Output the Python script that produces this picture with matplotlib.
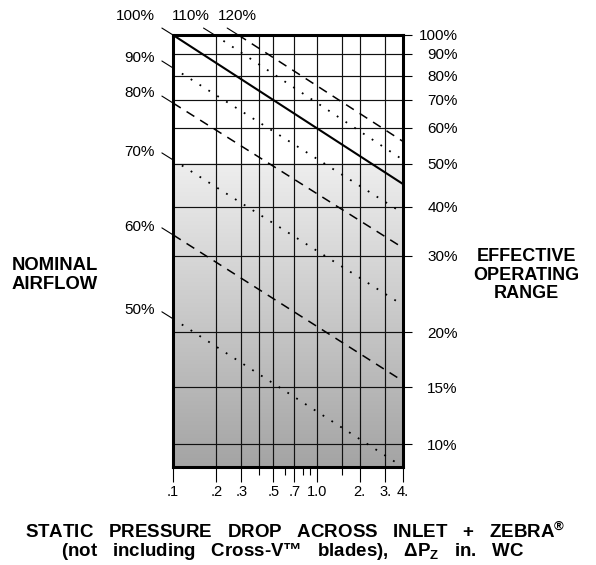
import numpy as np
import matplotlib
matplotlib.use("Agg")
import matplotlib.pyplot as plt
from matplotlib.colors import LinearSegmentedColormap
from matplotlib.ticker import FixedLocator, FixedFormatter, NullFormatter

plt.rcParams['font.family'] = ['Liberation Sans', 'DejaVu Sans']
plt.rcParams['mathtext.fontset'] = 'custom'
plt.rcParams['mathtext.rm'] = 'Liberation Sans:bold'
plt.rcParams['mathtext.bf'] = 'Liberation Sans:bold'

# ---------------- data ----------------
nominal = ['120%', '110%', '100%', '90%', '80%', '70%', '60%', '50%']
dp_start = [0.285, 0.195, 0.1, 0.1, 0.1, 0.1, 0.1, 0.1]
range_start = [100, 100, 100, 83.5, 68.8, 51.0, 33.9, 21.5]
dp_end = [4.0, 4.0, 4.0, 4.0, 4.0, 4.0, 4.0, 4.0]
range_end = [56, 51, 45, 38.5, 31.4, 23.1, 15.5, 8.8]

x_major = [0.1, 0.2, 0.3, 0.5, 0.7, 1.0, 2.0, 3.0, 4.0]
x_major_labels = ['.1', '.2', '.3', '.5', '.7', '1.0', '2.', '3.', '4.']
x_minor = [0.4, 0.6, 0.8, 0.9, 1.5]
x_grid = [0.2, 0.3, 0.4, 0.5, 0.7, 1.0, 1.5, 2.0, 3.0]

y_ticks = [100, 90, 80, 70, 60, 50, 40, 30, 20, 15, 10]
y_tick_labels = ['100%', '90%', '80%', '70%', '60%', '50%', '40%', '30%', '20%', '15%', '10%']
shade_top = 50

# ------------- chart's (hand drawn, near-log) y spacing -------------
SCALE_VALS = np.array([1, 10, 15, 20, 30, 40, 50, 60, 70, 80, 90, 100, 1000], float)
SCALE_POS = np.array([-855, -445, -388, -333, -256, -207, -164, -128, -100, -76, -54, -35, 375], float)
LOGV = np.log10(SCALE_VALS)


def fwd(v):
    v = np.asarray(v, float)
    return np.interp(np.log10(np.clip(v, 1e-9, None)), LOGV, SCALE_POS)


def inv(h):
    h = np.asarray(h, float)
    return 10 ** np.interp(h, SCALE_POS, LOGV)


# ---------------- styles ----------------
STYLE = {
    '120%': dict(ls=(0, (6.0, 4.5)), lw=1.1),
    '110%': dict(ls=(0, (1.0, 4.8)), lw=1.3),
    '100%': dict(ls='-', lw=1.5),
    '90%': dict(ls=(0, (1.0, 4.8)), lw=1.3),
    '80%': dict(ls=(0, (6.0, 4.5)), lw=1.1),
    '70%': dict(ls=(0, (1.0, 4.8)), lw=1.3),
    '60%': dict(ls=(0, (6.0, 4.5)), lw=1.1),
    '50%': dict(ls=(0, (1.0, 4.8)), lw=1.3),
}
TEXT_OFF = {
    '120%': (13.5, 13.5), '110%': (-3.4, 13.5), '100%': (-13, 13.5),
    '90%': (-13, 7.5), '80%': (-13, 7.0), '70%': (-13, 6.0), '60%': (-13, 5.5), '50%': (-13, 6.0),
}
LEADER_OFF = (-8.0, 5.0)

W, H = 596, 565
fig = plt.figure(figsize=(W / 100, H / 100), dpi=100)
L, R, T, B = 173, 403, 35, 467
ax = fig.add_axes([L / W, 1 - B / H, (R - L) / W, (B - T) / H])
ax.set_xscale('log')
ax.set_yscale('function', functions=(fwd, inv))
ax.set_xlim(0.1, 4.0)
ax.set_ylim(8.8, 100)

# background gradient from the 50% line down
frac = ax.transAxes.inverted().transform(ax.transData.transform((1.0, shade_top)))[1]
cmap = LinearSegmentedColormap.from_list('g', ['#eeeeee', '#a4a4a4'])
grad = np.linspace(0, 1, 256).reshape(-1, 1)
ax.imshow(grad, cmap=cmap, extent=(0, 1, 0, frac), transform=ax.transAxes,
          aspect='auto', origin='upper', zorder=0, interpolation='bilinear')
ax.set_xlim(0.1, 4.0)
ax.set_ylim(8.8, 100)

for xv in x_grid:
    ax.axvline(xv, color='#111111', lw=0.85, zorder=1)
for yv in y_ticks[1:]:
    ax.axhline(yv, color='#111111', lw=0.85, zorder=1)

for i, name in enumerate(nominal):
    st = STYLE[name]
    ax.plot([dp_start[i], dp_end[i]], [range_start[i], range_end[i]], color='black',
            linestyle=st['ls'], lw=st['lw'], zorder=3, solid_capstyle='butt')
    ax.annotate('', xy=(dp_start[i], range_start[i]), xytext=LEADER_OFF,
                textcoords='offset points', annotation_clip=False,
                arrowprops=dict(arrowstyle='-', lw=0.8, color='black', shrinkA=0, shrinkB=0))
    ax.annotate(name, xy=(dp_start[i], range_start[i]), xytext=TEXT_OFF[name],
                textcoords='offset points', ha='right', va='center', fontsize=11,
                annotation_clip=False)

# ticks
ax.xaxis.set_major_locator(FixedLocator(x_major))
ax.xaxis.set_major_formatter(FixedFormatter(x_major_labels))
ax.xaxis.set_minor_locator(FixedLocator(x_minor))
ax.xaxis.set_minor_formatter(NullFormatter())
ax.tick_params(axis='x', which='major', direction='out', length=10.8, width=0.8,
               labelsize=10.5, pad=2)
ax.tick_params(axis='x', which='minor', direction='out', length=5.8, width=0.8)

ax.yaxis.tick_right()
ax.yaxis.set_major_locator(FixedLocator(y_ticks))
ax.yaxis.set_major_formatter(FixedFormatter(y_tick_labels))
ax.yaxis.set_minor_locator(FixedLocator([]))
ax.tick_params(axis='y', which='major', direction='out', length=6.5, width=0.8,
               labelsize=11, pad=33)
for t in ax.get_yticklabels():
    t.set_horizontalalignment('right')

for s in ax.spines.values():
    s.set_linewidth(2.2)
    s.set_zorder(5)

# titles
fig.text(12 / W, 1 - 275 / H, 'NOMINAL\nAIRFLOW', ha='left', va='center',
         fontsize=13.3, fontweight='bold', linespacing=1.15)
fig.text(526 / W, 1 - 275 / H, 'EFFECTIVE\nOPERATING\nRANGE', ha='center', va='center',
         fontsize=13, fontweight='bold', linespacing=1.15, multialignment='center')
fig.text(295 / W, 1 - 532 / H,
         'STATIC   PRESSURE   DROP   ACROSS   INLET   +   ZEBRA$^{\\circledR}$',
         ha='center', va='center', fontsize=13.5, fontweight='bold')
fig.text(293 / W, 1 - 551 / H,
         '(not   including   Cross-V\u2122   blades),   \u0394P$_\\mathbf{Z}$   in.   WC',
         ha='center', va='center', fontsize=13.5, fontweight='bold')

fig.savefig('out.png', dpi=100)
